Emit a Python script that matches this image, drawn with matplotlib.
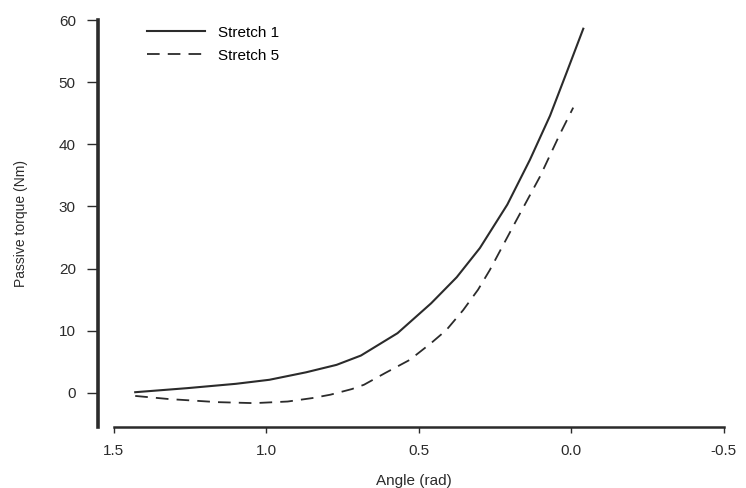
import matplotlib
matplotlib.use("Agg")
import matplotlib.pyplot as plt

plt.rcParams["font.family"] = ["Liberation Sans", "DejaVu Sans"]

# Stretch 1 (solid)
angle_s1 = [1.43, 1.26, 1.10, 0.99, 0.87, 0.77, 0.69, 0.57, 0.46, 0.376,
            0.30, 0.21, 0.136, 0.07, 0.016, -0.039]
torque_s1 = [0.1, 0.75, 1.45, 2.1, 3.3, 4.5, 6.0, 9.6, 14.4, 18.6,
             23.3, 30.3, 37.5, 44.6, 51.5, 58.6]

# Stretch 5 (dashed)
angle_s5 = [1.43, 1.32, 1.16, 1.04, 0.93, 0.85, 0.79, 0.72, 0.68, 0.61,
            0.53, 0.46, 0.41, 0.355, 0.306, 0.267, 0.18, 0.103, 0.038, -0.006]
torque_s5 = [-0.5, -1.0, -1.5, -1.66, -1.4, -0.85, -0.3, 0.6, 1.3, 3.2,
             5.3, 8.0, 10.1, 13.3, 16.6, 19.8, 27.8, 34.8, 41.6, 45.9]

x_ticks = [1.5, 1.0, 0.5, 0.0, -0.5]
x_ticklabels = ["1.5", "1.0", "0.5", "0.0", "-0.5"]
y_ticks = [0, 10, 20, 30, 40, 50, 60]

ink = "#2b2b2b"

fig = plt.figure(figsize=(7.46, 4.88), dpi=100)
ax = fig.add_axes([98 / 746, 61 / 488, 632 / 746, 407 / 488])

ax.plot(angle_s1, torque_s1, color=ink, lw=1.5, label="Stretch 1")
ax.plot(angle_s5, torque_s5, color=ink, lw=1.3, dashes=(7, 4.5), label="Stretch 5")

ax.set_xlim(1.552, -0.52)
ax.set_ylim(-5.5, 60)

ax.spines["top"].set_visible(False)
ax.spines["right"].set_visible(False)
ax.spines["left"].set_linewidth(2.6)
ax.spines["left"].set_color(ink)
ax.spines["bottom"].set_linewidth(1.8)
ax.spines["bottom"].set_color(ink)
ax.spines["bottom"].set_bounds(1.5, -0.5)

ax.set_xticks(x_ticks)
ax.set_xticklabels(x_ticklabels)
ax.set_yticks(y_ticks)
ax.tick_params(axis="y", length=8, width=1.0, colors=ink, labelsize=11, pad=8)
ax.tick_params(axis="x", length=4, width=1.0, colors=ink, labelsize=11, pad=8)

ax.set_xlabel("Angle (rad)", fontsize=11, color=ink, labelpad=12)
ax.set_ylabel("Passive torque (Nm)", fontsize=10, color=ink, labelpad=22)

ax.legend(loc="upper left", bbox_to_anchor=(0.055, 1.02), frameon=False,
          fontsize=11, handlelength=3.8, handletextpad=0.9, labelspacing=0.6)

fig.savefig("out.png", dpi=100)
